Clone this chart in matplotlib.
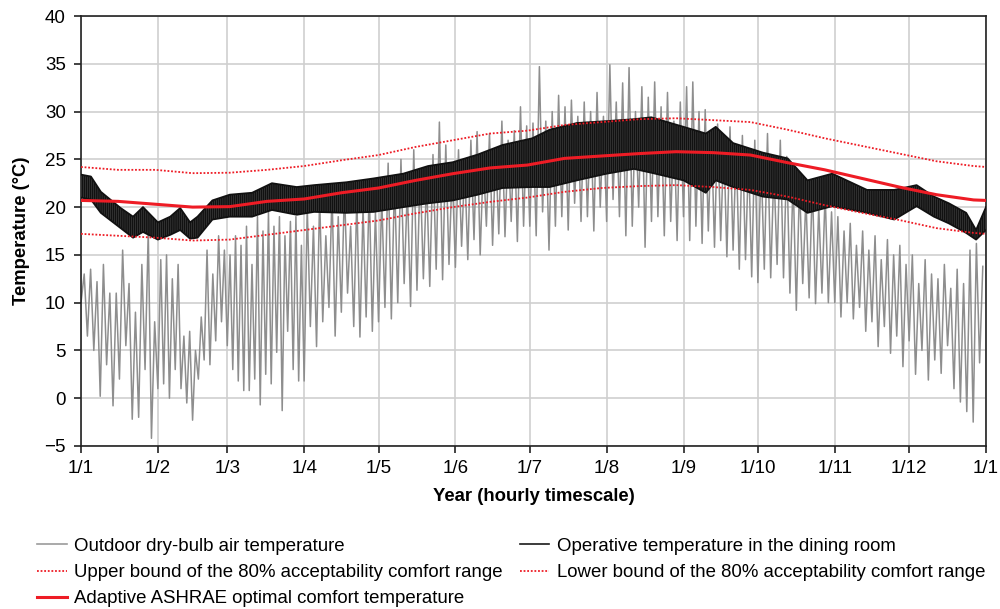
import matplotlib
matplotlib.use('Agg')
import matplotlib.pyplot as plt
from matplotlib.lines import Line2D
import numpy as np

plt.rcParams.update({
    'font.family': ['Liberation Sans', 'DejaVu Sans'],
    'font.size': 13,
    'hatch.linewidth': 1.2,
})

# Calendar: day of year where each month starts, and the x tick labels
month_start_day = [0, 31, 59, 90, 120, 151, 181, 212, 243, 273, 304, 334, 365]
tick_labels = ['1/1', '1/2', '1/3', '1/4', '1/5', '1/6', '1/7', '1/8',
               '1/9', '1/10', '1/11', '1/12', '1/1']

# Outdoor dry-bulb temperature: successive (low, high) swings, read per month
outdoor_low = [
    [10, 6.5, 5, 0.2, 3.5, -0.8, 2, 5.5, -2.2, -2, 3, -4.2],            # Jan
    [1, 1.5, 0, 3, 1, -0.5, -2.3, 2, 4, 3.5, 6, 8],                     # Feb
    [5.5, 3, 1.8, 0.8, 0.8, 2, -0.7, 2.5, 1.5, 4.8, -1.3, 7, 3, 1.8],   # Mar
    [1.8, 7.5, 5.4, 8, 9.5, 6.5, 9, 11, 7.5, 6.4, 8.5, 7],              # Apr
    [8, 9.5, 8.3, 10, 12, 9.6, 11.3, 12.5, 11.7, 13.5, 12.4, 14],       # May
    [13.7, 15.9, 14.5, 16.6, 15, 18, 16, 17.2, 16.9, 18.5, 16.4, 18],   # Jun
    [18, 17, 19.5, 15.5, 18, 19, 17.6, 20.4, 18.5, 19, 17.5, 20],       # Jul
    [18.5, 20.8, 19, 17, 18, 20, 15.8, 18.5, 19, 17, 18.5, 16.5],       # Aug
    [19, 16.5, 18, 16.2, 17.5, 15.8, 16.5, 14.8, 15.5, 13.5, 14.5, 12.7],  # Sep
    [12.1, 13.5, 12.6, 14, 12.6, 11, 9.2, 12, 10.5, 9.9, 11, 10],       # Oct
    [10, 8.5, 10, 8.3, 9.5, 7, 8, 5.4, 7.5, 4.7, 6.5, 3.3],             # Nov
    [6, 2.5, 5, 1.9, 4, 2.6, 5.5, 1, -0.4, -1.4, -2.5, 3.7],            # Dec
]
outdoor_high = [
    [13, 13.5, 12.2, 14, 11, 11, 15.5, 12, 9, 14, 17.5, 8],
    [14.5, 15, 12.5, 14, 6.5, 7, 5, 8.5, 15.5, 13, 17, 15.5],
    [15, 17, 16, 18, 14, 19, 17.5, 19.5, 18, 19, 17, 18.5, 19, 16],
    [20, 18, 21, 17, 21.5, 19, 22, 18, 21, 20, 22, 19.5],
    [21, 24.6, 23, 25, 22, 26, 24, 23, 25.5, 28.9, 26.5, 24],
    [26, 24.5, 27, 27.9, 25, 27.7, 26, 29, 27, 28, 30.5, 28.5],
    [28.8, 34.7, 29, 30, 31.7, 30.5, 31.2, 29.5, 31, 30, 32, 29.5],
    [34.9, 31, 33, 34.6, 30, 32.6, 31.5, 33.1, 30.5, 32, 29, 31],
    [32.6, 33.1, 30, 30.2, 28, 28.7, 27, 28.4, 26.5, 27.5, 25.5, 27],
    [25, 27.7, 24, 27, 25.3, 23, 22.5, 21, 22.5, 20, 21.5, 19.5],
    [19, 17.5, 18.3, 16, 17.5, 15.5, 17, 14.5, 16.6, 15, 16, 14],
    [15, 12, 14.5, 13, 12.5, 14, 11.5, 13.5, 12, 15.5, 16.2, 13.8],
]

# Operative temperature in the dining room: daily swing envelope
operative_day = [0, 4, 8, 16, 21, 25, 31, 36, 40, 44, 47, 53, 60, 69, 77, 87,
                 94, 107, 118, 130, 140, 150, 160, 170, 182, 189, 200, 212, 223,
                 230, 243, 252, 256, 263, 275, 285, 293, 303, 317, 328, 337,
                 344, 350, 357, 361, 365]
operative_top = [23.4, 23.2, 21.6, 19.9, 19.0, 20.0, 18.4, 19.0, 19.9, 18.4,
                 19.0, 20.7, 21.3, 21.5, 22.5, 22.1, 22.3, 22.6, 23.0, 23.5,
                 24.3, 24.7, 25.5, 26.5, 27.2, 28.1, 28.8, 29.0, 29.2, 29.4,
                 28.4, 27.7, 28.4, 26.7, 25.7, 25.1, 22.8, 23.5, 21.8, 21.8,
                 22.3, 21.1, 20.4, 19.4, 17.6, 20.0]
operative_bot = [21.0, 20.8, 19.4, 17.8, 16.8, 17.4, 16.6, 17.1, 17.6, 16.7,
                 16.8, 18.7, 19.0, 19.0, 19.7, 19.2, 19.5, 19.4, 19.5, 20.0,
                 20.4, 20.7, 21.3, 22.0, 22.1, 22.1, 22.8, 23.5, 24.0, 23.6,
                 22.8, 21.5, 22.8, 22.1, 21.1, 20.8, 19.4, 20.1, 19.4, 18.7,
                 20.1, 19.0, 18.3, 17.3, 16.6, 17.6]

# Adaptive ASHRAE comfort temperature and 80% acceptability bounds
comfort_day = [0, 15, 30, 45, 60, 75, 90, 105, 120, 135, 150, 165, 180, 195,
               210, 225, 240, 255, 270, 285, 300, 315, 330, 345, 360, 365]
optimal_temp = [20.7, 20.6, 20.3, 20.0, 20.05, 20.6, 20.85, 21.5, 22.0, 22.8,
                23.5, 24.1, 24.4, 25.1, 25.35, 25.6, 25.8, 25.7, 25.45, 24.65,
                23.9, 23.0, 22.1, 21.3, 20.75, 20.7]
upper_bound = [24.2, 23.9, 23.9, 23.55, 23.6, 23.9, 24.3, 24.9, 25.45, 26.3,
               27.0, 27.7, 28.0, 28.6, 28.9, 29.2, 29.3, 29.1, 28.9, 28.1,
               27.2, 26.4, 25.6, 24.8, 24.3, 24.2]
lower_bound = [17.2, 17.0, 16.8, 16.5, 16.6, 17.1, 17.6, 18.1, 18.6, 19.35,
               20.0, 20.55, 21.0, 21.6, 22.0, 22.2, 22.3, 22.1, 21.8, 21.1,
               20.2, 19.4, 18.65, 17.8, 17.3, 17.2]

HOURS = 24

fig = plt.figure(figsize=(10, 6.09), dpi=100)
ax = fig.add_axes([0.081, 0.2677, 0.905, 0.706])

# outdoor temperature: alternate low/high within each month
out_x, out_y = [], []
for m in range(12):
    lows, highs = outdoor_low[m], outdoor_high[m]
    n = len(lows)
    t = np.linspace(month_start_day[m], month_start_day[m + 1], 2 * n, endpoint=False)
    for i in range(n):
        out_x += [t[2 * i], t[2 * i + 1]]
        out_y += [lows[i], highs[i]]
out_x = np.array(out_x) * HOURS
ax.plot(out_x, out_y, color='#8e8e8e', lw=1.1, zorder=2)

# operative temperature band, hatched to mimic the hourly strokes
op_x = np.array(operative_day) * HOURS
ax.fill_between(op_x, operative_bot, operative_top, facecolor='#5a5a5a',
                edgecolor='#111111', hatch='|' * 8, lw=0, zorder=3)
ax.plot(op_x, operative_top, color='#111111', lw=1.3, zorder=3)
ax.plot(op_x, operative_bot, color='#111111', lw=1.3, zorder=3)

c_x = np.array(comfort_day) * HOURS
red = '#ee1c25'
ax.plot(c_x, upper_bound, color=red, lw=1.3, ls=(0, (1, 1)), zorder=4)
ax.plot(c_x, lower_bound, color=red, lw=1.3, ls=(0, (1, 1)), zorder=4)
ax.plot(c_x, optimal_temp, color=red, lw=2.2, zorder=5)

ax.set_xlim(0, 365 * HOURS)
ax.set_ylim(-5, 40)
ax.set_xticks(np.array(month_start_day) * HOURS)
ax.set_xticklabels(tick_labels)
ax.set_yticks(range(-5, 41, 5))
ax.set_axisbelow(True)
ax.grid(True, color='#cfcfcf', lw=1.2)
for s in ax.spines.values():
    s.set_color('#222222')
    s.set_linewidth(1.2)
ax.tick_params(direction='out', length=5, width=1.2, color='#222222',
               labelsize=13.5, pad=5)
ax.tick_params(axis='y', pad=6)
ax.set_xlabel('Year (hourly timescale)', fontweight='bold', fontsize=13.3, labelpad=8)
ax.set_ylabel('Temperature (°C)', fontweight='bold', fontsize=13.3, labelpad=10)

handles = [
    Line2D([], [], color='#9b9b9b', lw=1.2),
    Line2D([], [], color=red, lw=1.3, ls=(0, (1, 1))),
    Line2D([], [], color=red, lw=2.2),
    Line2D([], [], color='#1a1a1a', lw=1.2),
    Line2D([], [], color=red, lw=1.3, ls=(0, (1, 1))),
]
labels = [
    'Outdoor dry-bulb air temperature',
    'Upper bound of the 80% acceptability comfort range',
    'Adaptive ASHRAE optimal comfort temperature',
    'Operative temperature in the dining room',
    'Lower bound of the 80% acceptability comfort range',
]
fig.legend(handles, labels, ncol=2, loc='upper left',
           bbox_to_anchor=(0.037, 0.117), frameon=False, fontsize=13.4,
           handlelength=1.6, handletextpad=0.4, columnspacing=0.9,
           labelspacing=0.5, borderpad=0, borderaxespad=0)

fig.savefig('out.png', dpi=100)
